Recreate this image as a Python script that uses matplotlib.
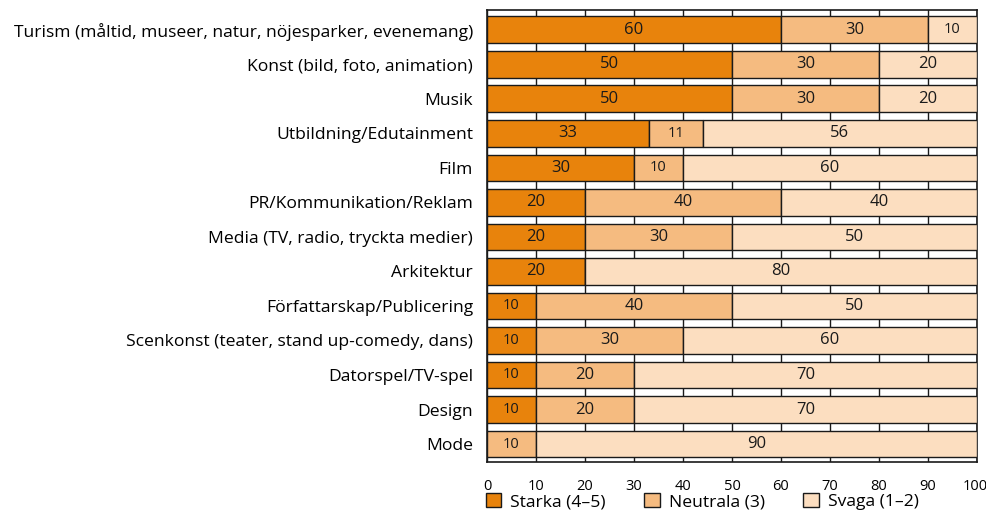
import matplotlib
matplotlib.use("Agg")
import matplotlib.pyplot as plt
from matplotlib.patches import Patch

categories = [
    "Turism (måltid, museer, natur, nöjesparker, evenemang)",
    "Konst (bild, foto, animation)",
    "Musik",
    "Utbildning/Edutainment",
    "Film",
    "PR/Kommunikation/Reklam",
    "Media (TV, radio, tryckta medier)",
    "Arkitektur",
    "Författarskap/Publicering",
    "Scenkonst (teater, stand up-comedy, dans)",
    "Datorspel/TV-spel",
    "Design",
    "Mode",
]
starka = [60, 50, 50, 33, 30, 20, 20, 20, 10, 10, 10, 10, 0]
neutrala = [30, 30, 30, 11, 10, 40, 30, 0, 40, 30, 20, 20, 10]
svaga = [10, 20, 20, 56, 60, 40, 50, 80, 50, 60, 70, 70, 90]
series_names = ["Starka (4–5)", "Neutrala (3)", "Svaga (1–2)"]
colors = ["#E8830C", "#F5BB80", "#FCDEC0"]
xticks = [0, 10, 20, 30, 40, 50, 60, 70, 80, 90, 100]

plt.rcParams["font.family"] = ["Open Sans", "DejaVu Sans"]

fig = plt.figure(figsize=(9.87, 5.13), dpi=100)
ax = fig.add_axes([487 / 987, 1 - 462 / 513, 490 / 987, 452 / 513])

y = list(range(len(categories)))
left = [0] * len(categories)
for vals, col in zip([starka, neutrala, svaga], colors):
    ax.barh(y, vals, left=left, height=0.77, color=col, edgecolor="#1a1a1a",
            linewidth=1.0, zorder=3)
    for i, v in enumerate(vals):
        if v > 0:
            fs = 10.5 if v <= 11 else 12
            ax.text(left[i] + v / 2, i, str(v), ha="center", va="center",
                    fontsize=fs, color="#1a1a1a", zorder=4)
    left = [l + v for l, v in zip(left, vals)]

ax.set_xlim(0, 100)
ax.set_ylim(len(categories) - 0.48, -0.57)
ax.set_xticks(xticks)
ax.set_xticklabels([str(t) for t in xticks[:-1]] + [""], fontsize=10.5)
ax.annotate(str(xticks[-1]), xy=(xticks[-1], 0), xycoords=("data", "axes fraction"),
            xytext=(7.5, -12.6), textcoords="offset points", ha="right", va="top",
            fontsize=10.5)
ax.set_yticks(y)
ax.set_yticklabels(categories, fontsize=12.6)
ax.tick_params(axis="y", length=0, pad=10)
ax.tick_params(axis="x", length=0, pad=12)
ax.xaxis.grid(True, color="#1a1a1a", linewidth=1.0, zorder=0)
ax.set_axisbelow(True)
for s in ax.spines.values():
    s.set_color("#1a1a1a")
    s.set_linewidth(1.2)

handles = [Patch(facecolor=c, edgecolor="#1a1a1a", linewidth=1.0) for c in colors]
fig.legend(handles, series_names, loc="lower left", bbox_to_anchor=(470 / 987, -0.025),
           ncol=3, frameon=False, fontsize=12.6, handlelength=0.9, handleheight=0.9,
           columnspacing=2.2, handletextpad=0.5)

fig.savefig("out.png", dpi=100)
